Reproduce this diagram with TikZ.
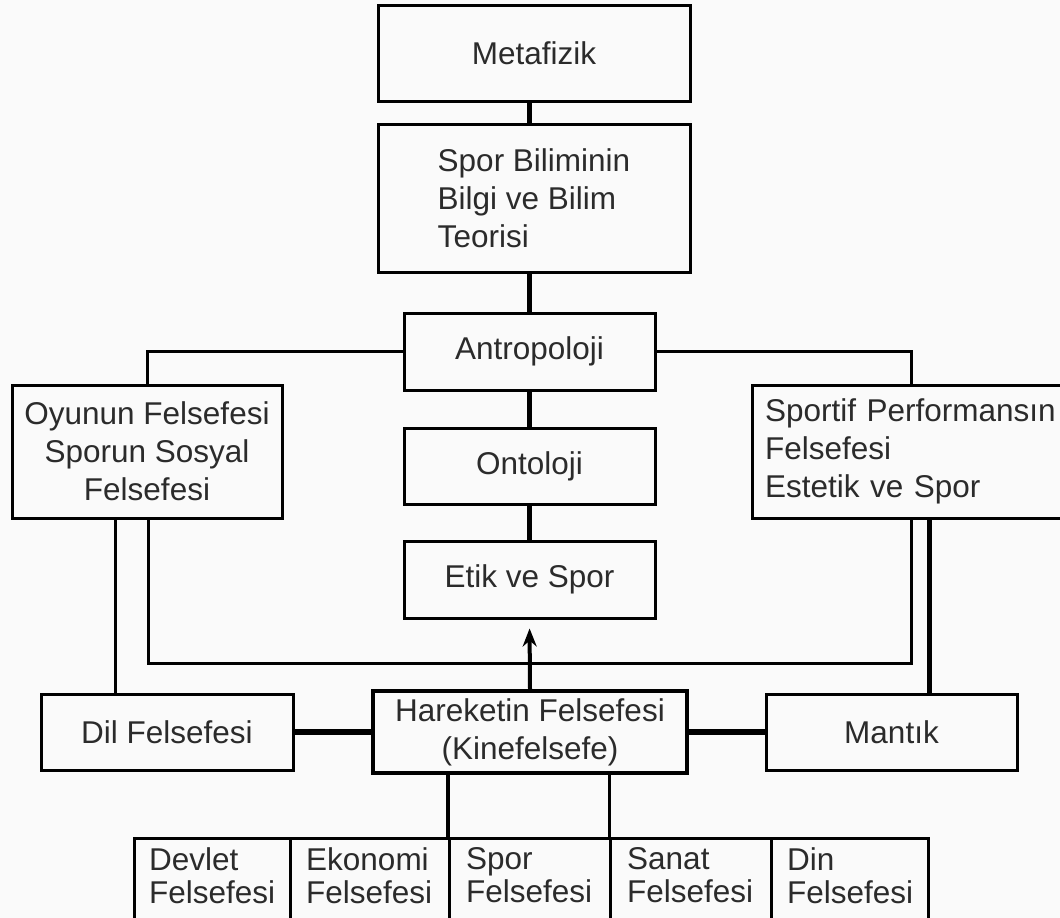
\documentclass[tikz,border=0pt]{standalone}
\usepackage{fontspec}
\setmainfont{Liberation Sans}
\usetikzlibrary{arrows.meta}
\definecolor{ink}{HTML}{2B2B2B}
\definecolor{paper}{HTML}{FAFAFA}
\begin{document}
\begin{tikzpicture}[x=1pt,y=-1pt,
  box/.style={draw=black, line width=3pt, inner sep=0pt, text=ink,
    font=\fontsize{31.5}{38}\selectfont},
  subbox/.style={draw=black, line width=2.6pt, inner sep=0pt, anchor=north west,
    minimum height=105pt},
  subtext/.style={anchor=north west, inner sep=0pt, align=left, text=ink,
    font=\fontsize{31.5}{33}\selectfont},
  heavy/.style={draw=black, line width=4.5pt},
  light/.style={draw=black, line width=3pt},
  bar/.style={draw=black, line width=6pt}]
\useasboundingbox (0,0) rectangle (1060,918);
\clip (0,0) rectangle (1060,918);
\fill[paper] (0,0) rectangle (1060,918);

% central column
\node[box, minimum width=312pt, minimum height=96pt] (meta) at (534,53) {Metafizik};
\node[box, minimum width=312pt, minimum height=148pt, align=left] (spor) at (534,198.5)
  {Spor Biliminin\\Bilgi ve Bilim\\Teorisi};
\node[box, minimum width=251pt, minimum height=77pt] (antro) at (529.5,351.5) {Antropoloji};
\node[box, minimum width=251pt, minimum height=76pt] (onto) at (529.5,466) {Ontoloji};
\node[box, minimum width=251pt, minimum height=77pt] (etik) at (529.5,579.5) {Etik ve Spor};

% side boxes
\node[box, minimum width=270pt, minimum height=133pt, align=center] (oyun) at (147,451.5)
  {Oyunun Felsefesi\\Sporun Sosyal\\Felsefesi};
\node[box, minimum width=328pt, minimum height=133pt, text width=302pt, inner xsep=13pt,
  align=left] (sportif) at (916,451.5)
  {Sportif Performansın\\Felsefesi\\Estetik ve Spor};

% middle row
\node[box, minimum width=252pt, minimum height=76pt] (dil) at (167,732) {Dil Felsefesi};
\node[box, line width=3.5pt, minimum width=314pt, minimum height=82pt, align=center] (hare) at (530,732)
  {Hareketin Felsefesi\\(Kinefelsefe)};
\node[box, minimum width=251pt, minimum height=76pt] (mantik) at (891.5,732) {Mantık};

% bottom row
\node[subbox, minimum width=156pt] (devlet) at (133,837) {};
\node[subbox, minimum width=159pt] (ekonomi) at (289,837) {};
\node[subbox, minimum width=161pt] (sporf) at (448,837) {};
\node[subbox, minimum width=161pt] (sanat) at (609,837) {};
\node[subbox, minimum width=157pt] (din) at (770,837) {};
\node[subtext] (devlet-t) at (149,847) {Devlet\\Felsefesi};
\node[subtext] (ekonomi-t) at (306,847) {Ekonomi\\Felsefesi};
\node[subtext] (sporf-t) at (466,847) {Spor\\Felsefesi};
\node[subtext] (sanat-t) at (627,847) {Sanat\\Felsefesi};
\node[subtext] (din-t) at (787,847) {Din\\Felsefesi};

% helper columns and the return line
\coordinate (lx) at (115,0);
\coordinate (lp) at (148,0);
\coordinate (rp) at (911,0);
\coordinate (rx) at (929,0);
\coordinate (loop) at (0,663);

% central chain
\draw[heavy] (meta.south -| antro.north) -- (spor.north -| antro.north);
\draw[heavy] (spor.south -| antro.north) -- (antro.north);
\draw[heavy] (antro.south) -- (onto.north);
\draw[heavy] (onto.south) -- (etik.north);

% branches from Antropoloji
\draw[light] (antro.west) -| (oyun.north);
\draw[light] (antro.east) -| (rp |- sportif.north);

% return line into Etik ve Spor
\draw[light] (oyun.south -| lp) -- (lp |- loop) -- (rp |- loop) -- (sportif.south -| rp);
\draw[line width=4pt, -{Stealth[length=18pt,width=14pt]}, shorten >=9pt]
  (hare.north) -- (etik.south);

% side links
\draw[light] (oyun.south -| lx) -- (dil.north -| lx);
\draw[bar, line width=5pt] (sportif.south -| rx) -- (mantik.north -| rx);
\draw[bar] (dil.east) -- (hare.west);
\draw[bar] (hare.east) -- (mantik.west);

% links to the bottom row
\draw[heavy] (hare.south -| sporf.north west) -- (sporf.north west);
\draw[light] (hare.south -| sanat.north west) -- (sanat.north west);
\end{tikzpicture}
\end{document}
